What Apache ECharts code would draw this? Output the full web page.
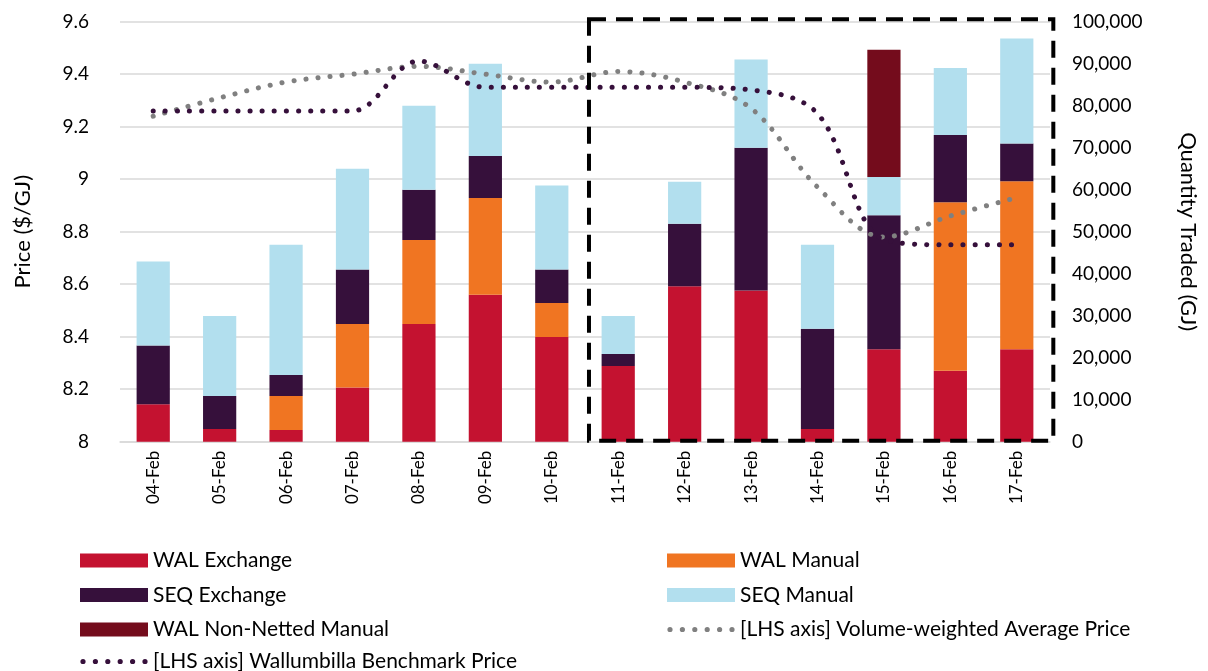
<!DOCTYPE html>
<html>
<head>
<meta charset="utf-8">
<script src="https://cdn.jsdelivr.net/npm/echarts@6/dist/echarts.min.js"></script>
<style>
html,body{margin:0;padding:0;background:#fff;}
#c{width:1208px;height:671px;}
</style>
</head>
<body>
<div id="c"></div>
<script>
const categories = ['04-Feb','05-Feb','06-Feb','07-Feb','08-Feb','09-Feb','10-Feb','11-Feb','12-Feb','13-Feb','14-Feb','15-Feb','16-Feb','17-Feb'];
const walExchange = [8900, 3000, 2800, 12900, 28000, 35000, 24900, 18000, 37000, 36000, 3000, 22000, 16900, 22000];
const walManual   = [0, 0, 8100, 15100, 20000, 23000, 8100, 0, 0, 0, 0, 0, 40100, 40000];
const seqExchange = [14000, 7900, 5000, 13000, 12000, 10000, 8000, 2900, 14900, 34000, 23900, 31900, 16000, 9000];
const seqManual   = [20000, 19000, 31000, 24000, 20000, 22000, 20000, 9000, 10000, 21000, 20000, 9100, 16000, 25000];
const walNonNetted = [0, 0, 0, 0, 0, 0, 0, 0, 0, 0, 0, 30300, 0, 0];
const vwap      = [9.24, 9.31, 9.37, 9.40, 9.43, 9.40, 9.37, 9.41, 9.37, 9.27, 8.97, 8.78, 8.86, 8.93];
const benchmark = [9.26, 9.26, 9.26, 9.26, 9.45, 9.35, 9.35, 9.35, 9.35, 9.34, 9.25, 8.77, 8.75, 8.75];
const priceTicks = {min: 8, max: 9.6, interval: 0.2};
const qtyTicks = {min: 0, max: 100000, interval: 10000};

const FONT = 'Lato';
const dotIcon = (function(){
  let p = 'path://M0,0 M68,14 ';
  for (let i = 0; i < 6; i++) {
    const cx = 3 + i * 12.4;
    p += 'M' + (cx - 2.6) + ',7 a2.6,2.6 0 1,0 5.2,0 a2.6,2.6 0 1,0 -5.2,0 ';
  }
  return p;
})();

const chart = echarts.init(document.getElementById('c'), null, {renderer: 'canvas'});

function bar(name, data, color) {
  return {
    name: name, type: 'bar', stack: 'q', yAxisIndex: 1, data: data,
    barWidth: '50%',
    itemStyle: {color: color},
    emphasis: {disabled: true}
  };
}
function dotted(name, data, color) {
  return {
    name: name, type: 'line', yAxisIndex: 0, data: data,
    symbol: 'none', showSymbol: false, smooth: 0.35, z: 5,
    lineStyle: {color: color, width: 5, type: [0.1, 12], cap: 'round'},
    itemStyle: {color: color},
    emphasis: {disabled: true}
  };
}

const legendText = {fontFamily: FONT, fontSize: 21, color: '#000', lineHeight: 20};
function legend(left, top, items) {
  return {
    left: left, top: top, orient: 'vertical', itemWidth: 68, itemHeight: 14, itemGap: 13.5,
    padding: 0, textStyle: legendText, selectedMode: false, data: items
  };
}

chart.setOption({
  animation: false,
  textStyle: {fontFamily: FONT},
  grid: {left: 120, right: 158, top: 21.7, bottom: 229.3},
  legend: [
    legend(80, 550, [
      {name: 'WAL Exchange', icon: 'rect'},
      {name: 'SEQ Exchange', icon: 'rect'},
      {name: 'WAL Non-Netted Manual', icon: 'rect'}
    ]),
    legend(80, 651, [
      {name: '[LHS axis] Wallumbilla Benchmark Price', icon: dotIcon, itemStyle: {color: '#36103B', borderWidth: 0}}
    ]),
    legend(667, 550, [
      {name: 'WAL Manual', icon: 'rect'},
      {name: 'SEQ Manual', icon: 'rect'},
      {name: '[LHS axis] Volume-weighted Average Price', icon: dotIcon, itemStyle: {color: '#808080', borderWidth: 0}}
    ])
  ],
  xAxis: {
    type: 'category', data: categories,
    axisLine: {lineStyle: {color: '#d9d9d9', width: 1.5}},
    axisTick: {show: false},
    axisLabel: {rotate: 90, margin: 9, fontFamily: FONT, fontSize: 17, color: '#000'}
  },
  yAxis: [
    {
      type: 'value', min: priceTicks.min, max: priceTicks.max, interval: priceTicks.interval,
      name: 'Price ($/GJ)', nameLocation: 'middle', nameGap: 86, nameRotate: 90,
      nameTextStyle: {fontFamily: FONT, fontSize: 22, color: '#000'},
      axisLine: {show: false}, axisTick: {show: false},
      axisLabel: {margin: 31, fontFamily: FONT, fontSize: 19, color: '#000'},
      splitLine: {lineStyle: {color: '#d9d9d9', width: 1.5}}
    },
    {
      type: 'value', min: qtyTicks.min, max: qtyTicks.max, interval: qtyTicks.interval,
      name: 'Quantity Traded (GJ)', nameLocation: 'middle', nameGap: 127, nameRotate: -90,
      nameTextStyle: {fontFamily: FONT, fontSize: 22, color: '#000'},
      axisLine: {show: false}, axisTick: {show: false},
      axisLabel: {margin: 22, fontFamily: FONT, fontSize: 19, color: '#000',
        formatter: v => v.toLocaleString('en-US')},
      splitLine: {show: false}
    }
  ],
  series: [
    bar('WAL Exchange', walExchange, '#C41230'),
    bar('WAL Manual', walManual, '#F07522'),
    bar('SEQ Exchange', seqExchange, '#36103B'),
    bar('SEQ Manual', seqManual, '#B2DFEE'),
    bar('WAL Non-Netted Manual', walNonNetted, '#740C1C'),
    dotted('[LHS axis] Volume-weighted Average Price', vwap, '#808080'),
    dotted('[LHS axis] Wallumbilla Benchmark Price', benchmark, '#36103B')
  ]
});

// dashed highlight box around the last week, positioned from the axes
const x10 = chart.convertToPixel({xAxisIndex: 0}, categories[6]);
const x11 = chart.convertToPixel({xAxisIndex: 0}, categories[7]);
const x17 = chart.convertToPixel({xAxisIndex: 0}, categories[13]);
const band = x11 - x10;
const yTop = chart.convertToPixel({yAxisIndex: 0}, priceTicks.max);
const yBot = chart.convertToPixel({yAxisIndex: 0}, priceTicks.min);
const bx = x11 - 0.44 * band;
const bRight = x17 + 0.55 * band;
chart.setOption({
  graphic: [{
    type: 'rect', z: 10, silent: true,
    shape: {x: bx, y: yTop - 2.5, width: bRight - bx, height: (yBot - 1) - (yTop - 2.5)},
    style: {fill: 'none', stroke: '#000', lineWidth: 4, lineDash: [17, 10]}
  }]
});
</script>
</body>
</html>
